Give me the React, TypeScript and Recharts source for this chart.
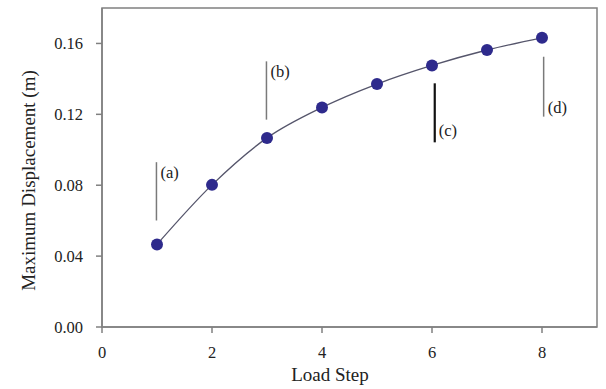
import React from 'react';
import {
  ComposedChart,
  Line,
  XAxis,
  YAxis,
  ReferenceLine,
  ReferenceDot,
  ReferenceArea,
  Label,
} from 'recharts';

const loadSteps = [1, 2, 3, 4, 5, 6, 7, 8];
const maxDisplacement = [0.0466, 0.0802, 0.1067, 0.1239, 0.1371, 0.1476, 0.1563, 0.1632];

const xTicks = [0, 2, 4, 6, 8];
const yTicks = [0, 0.04, 0.08, 0.12, 0.16];

const annLabels = ['(a)', '(b)', '(c)', '(d)'];
const annX = [0.99, 2.99, 6.05, 8.03];
const annTop = [0.093, 0.1499, 0.1375, 0.1525];
const annBottom = [0.0601, 0.117, 0.1042, 0.1187];
const annLabelY = [0.0872, 0.1446, 0.1108, 0.1243];
const annColor = ['#7a7a7a', '#7a7a7a', '#111111', '#7a7a7a'];
const annWidth = [1.5, 1.5, 2.2, 1.5];

const data = loadSteps.map((s, i) => ({ step: s, disp: maxDisplacement[i] }));

const FONT = '"Liberation Serif", "Times New Roman", serif';
const AXIS = '#808080';

export default function App() {
  return (
    <div style={{ position: 'absolute', left: 0, top: 0, background: '#fff' }}>
      <ComposedChart
        width={606}
        height={389}
        data={data}
        margin={{ top: 8, right: 9, bottom: 0, left: 0 }}
      >
        <XAxis
          dataKey="step"
          type="number"
          domain={[0, 9]}
          ticks={xTicks}
          allowDataOverflow
          height={62}
          tickSize={6}
          tickMargin={13}
          axisLine={{ stroke: AXIS, strokeWidth: 1.5 }}
          tickLine={{ stroke: AXIS, strokeWidth: 1.5 }}
          tick={{ fill: '#222', fontSize: 16.5, fontFamily: FONT }}
        >
          <Label
            content={(props: any) => {
              const vb = props.viewBox;
              return (
                <text
                  x={vb.x + vb.width / 2 - 19.5}
                  y={381}
                  textAnchor="middle"
                  fill="#222"
                  fontSize={19}
                  fontFamily={FONT}
                >
                  Load Step
                </text>
              );
            }}
          />
        </XAxis>
        <YAxis
          type="number"
          domain={[0, 0.18]}
          ticks={yTicks}
          allowDataOverflow
          width={102}
          tickSize={6}
          tickMargin={13}
          tickFormatter={(v: number) => v.toFixed(2)}
          axisLine={{ stroke: AXIS, strokeWidth: 1.5 }}
          tickLine={{ stroke: AXIS, strokeWidth: 1.5 }}
          tick={{ fill: '#222', fontSize: 16.5, fontFamily: FONT }}
        >
          <Label
            content={(props: any) => {
              const vb = props.viewBox;
              const cx = 28;
              const cy = vb.y + vb.height / 2 + 13;
              return (
                <text
                  x={cx}
                  y={cy}
                  transform={`rotate(-90, ${cx}, ${cy})`}
                  textAnchor="middle"
                  dominantBaseline="central"
                  fill="#222"
                  fontSize={19}
                  fontFamily={FONT}
                >
                  Maximum Displacement (m)
                </text>
              );
            }}
          />
        </YAxis>
        <ReferenceArea
          x1={0}
          x2={9}
          y1={0}
          y2={0.18}
          fill="none"
          stroke={AXIS}
          strokeWidth={1.5}
          ifOverflow="extendDomain"
        />
        {annLabels.map((lab, i) => (
          <ReferenceLine
            key={'l' + lab}
            segment={[
              { x: annX[i], y: annBottom[i] },
              { x: annX[i], y: annTop[i] },
            ]}
            stroke={annColor[i]}
            strokeWidth={annWidth[i]}
          />
        ))}
        {annLabels.map((lab, i) => (
          <ReferenceDot
            key={'d' + lab}
            x={annX[i]}
            y={annLabelY[i]}
            r={0}
            fill="none"
            stroke="none"
            label={{
              value: lab,
              position: 'right',
              offset: 4,
              fill: '#222',
              fontSize: 16.5,
              fontFamily: FONT,
            }}
          />
        ))}
        <Line
          type="monotone"
          dataKey="disp"
          stroke="#55556b"
          strokeWidth={1.3}
          dot={{ r: 6, fill: '#2e2a8c', stroke: '#2e2a8c', strokeWidth: 0 }}
          activeDot={false}
          isAnimationActive={false}
        />
      </ComposedChart>
    </div>
  );
}
